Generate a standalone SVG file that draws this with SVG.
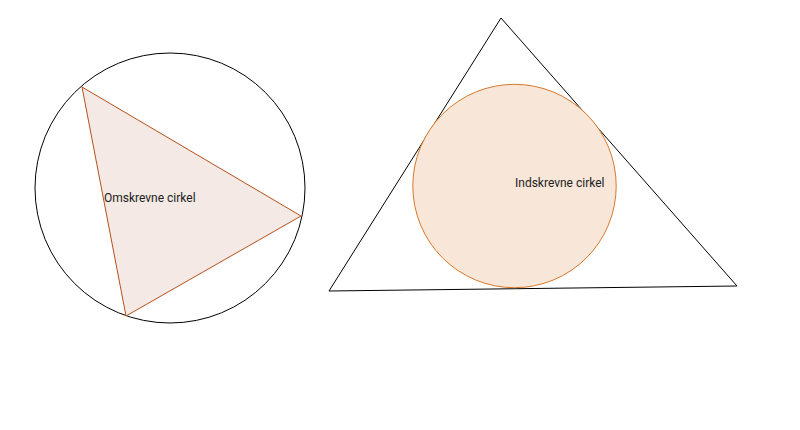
<svg xmlns="http://www.w3.org/2000/svg" width="800" height="430" viewBox="0 0 800 430">
<style>
.lbl{font-family:Roboto,"Liberation Sans",sans-serif;font-size:12px;fill:#222}
.blk{fill:none;stroke:#000;stroke-width:1}
</style>
<rect width="800" height="430" fill="#fff"/>
<g id="circumscribed">
<circle class="blk" cx="170" cy="188" r="135"/>
<polygon points="82,87 301,216 126,316" fill="#f4e9e4" stroke="#b5501a" stroke-width="1"/>
<text class="lbl" x="104" y="202">Omskrevne cirkel</text>
</g>
<g id="inscribed">
<polygon class="blk" points="501,18 329,291 737,286"/>
<circle cx="514.5" cy="186" r="101.7" fill="#f8e6d8" stroke="#d9782a" stroke-width="1"/>
<text class="lbl" x="515" y="187">Indskrevne cirkel</text>
</g>
</svg>
